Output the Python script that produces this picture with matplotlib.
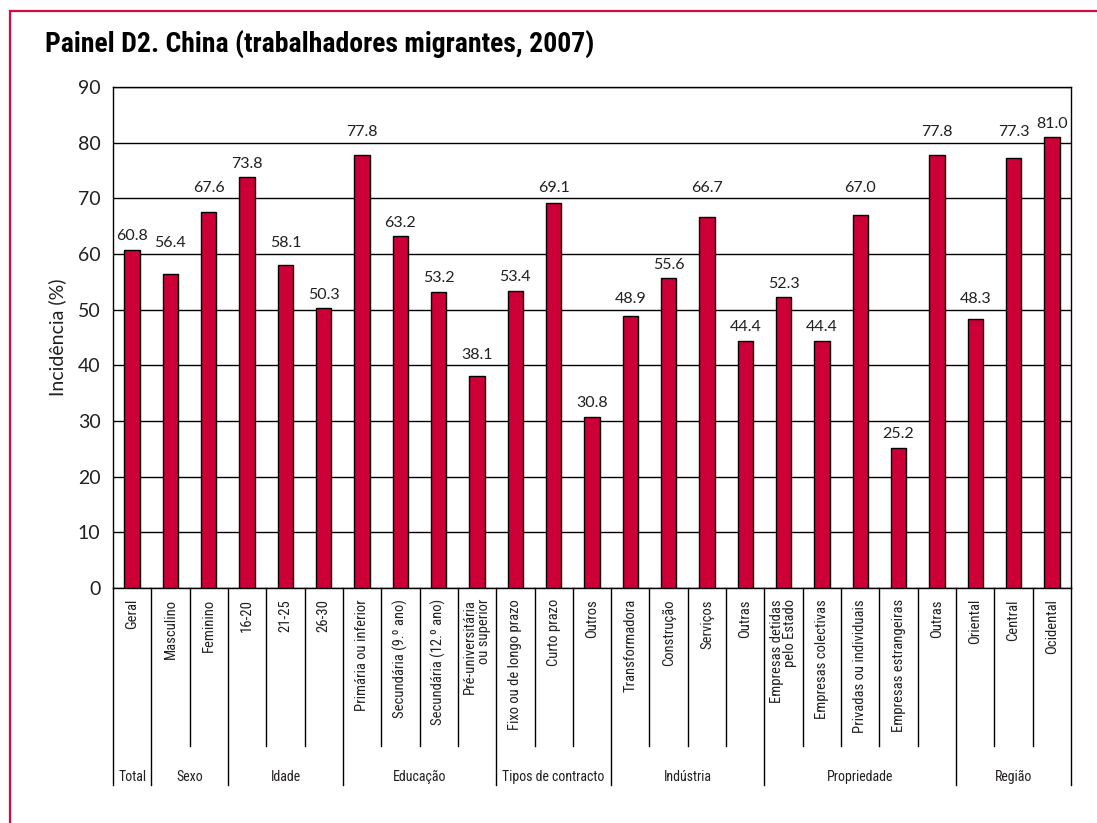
import matplotlib
matplotlib.use("Agg")
import matplotlib.pyplot as plt
from matplotlib.patches import Rectangle
from matplotlib import font_manager

# ------------------------------------------------------------
# Data
# ------------------------------------------------------------
categories = [
    "Geral",
    "Masculino", "Feminino",
    "16-20", "21-25", "26-30",
    "Primária ou inferior", "Secundária (9.º ano)", "Secundária (12.º ano)",
    "Pré-universitária\nou superior",
    "Fixo ou de longo prazo", "Curto prazo", "Outros",
    "Transformadora", "Construção", "Serviços", "Outras",
    "Empresas detidas\npelo Estado", "Empresas colectivas",
    "Privadas ou individuais", "Empresas estrangeiras", "Outras",
    "Oriental", "Central", "Ocidental",
]
values = [
    60.8,
    56.4, 67.6,
    73.8, 58.1, 50.3,
    77.8, 63.2, 53.2, 38.1,
    53.4, 69.1, 30.8,
    48.9, 55.6, 66.7, 44.4,
    52.3, 44.4, 67.0, 25.2, 77.8,
    48.3, 77.3, 81.0,
]
groups = ["Total", "Sexo", "Idade", "Educação", "Tipos de contracto",
          "Indústria", "Propriedade", "Região"]
group_sizes = [1, 2, 3, 4, 3, 4, 5, 3]

title = "Painel D2. China (trabalhadores migrantes, 2007)"
ylabel = "Incidência (%)"

# ------------------------------------------------------------
# Fonts : look for a narrow face, otherwise condensed DejaVu
# ------------------------------------------------------------
fonts = font_manager.fontManager.ttflist
narrow_names = sorted({f.name for f in fonts
                       if "Narrow" in f.name or "Condensed" in f.name})
narrow_kw = {"family": "DejaVu Sans", "fontstretch": "condensed"}
for pref in ["Liberation Sans Narrow", "Roboto Condensed",
             "Open Sans Condensed", "DejaVu Sans Condensed"]:
    if pref in narrow_names:
        narrow_kw = {"family": pref}
        break
else:
    if narrow_names:
        narrow_kw = {"family": narrow_names[0]}

available = {f.name for f in fonts}
num_font = "Lato" if "Lato" in available else "DejaVu Sans"

BAR = "#CC0036"
BORDER = "#D6083F"
TXT = "#231F20"

# ------------------------------------------------------------
# Plot
# ------------------------------------------------------------
fig = plt.figure(figsize=(10.97, 8.23), dpi=100)
ax = fig.add_axes([113 / 1097, 1 - 588 / 823, 958 / 1097, 501 / 823])

x = list(range(len(values)))
ax.bar(x, values, width=0.4, color=BAR, edgecolor="black", linewidth=1.0, zorder=3)

ax.set_xlim(-0.5, len(values) - 0.5)
ax.set_ylim(0, 90)
ax.set_yticks(range(0, 91, 10))
ax.yaxis.grid(True, color="black", linewidth=1.0, zorder=0)
ax.tick_params(axis="y", length=0, pad=9, labelsize=14, labelcolor=TXT)
for lab in ax.get_yticklabels():
    lab.set_fontfamily(num_font)
ax.set_xticks([])
for s in ax.spines.values():
    s.set_linewidth(1.0)

ax.set_ylabel(ylabel, fontsize=14, color=TXT, family=num_font, labelpad=8)

# value labels, kept clear of the grid lines
for xi, v in zip(x, values):
    yc = v + 2.4
    grid = int((yc + 1.2) // 10) * 10
    if grid > v:
        yc = grid + 1.9
    ax.text(xi, yc, f"{v:.1f}", ha="center", va="center",
            fontsize=11.5, color=TXT, family=num_font)

# category labels and separators below the axis
trans = ax.get_xaxis_transform()
for xi, name in zip(x, categories):
    ax.text(xi, -0.022, name, rotation=90, ha="center", va="top",
            multialignment="right", fontsize=10.5, color=TXT,
            transform=trans, linespacing=0.95, **narrow_kw)

bounds = [0]
for n in group_sizes:
    bounds.append(bounds[-1] + n)

for i in range(len(values) + 1):
    low = -0.393 if i in bounds else -0.316
    ax.plot([i - 0.5, i - 0.5], [0, low], color="black", linewidth=1.0,
            transform=trans, clip_on=False)

for g, a, b in zip(groups, bounds[:-1], bounds[1:]):
    ax.text((a + b - 1) / 2, -0.378, g, ha="center", va="center",
            fontsize=10, color=TXT, transform=trans, **narrow_kw)

# title and frame
fig.text(45 / 1097, 1 - 44 / 823, title, ha="left", va="center",
         fontsize=20, fontweight="bold", color="black", **narrow_kw)
fig.patches.append(Rectangle((9.5 / 1097, -0.05), 1.1, 1.05 - 10.5 / 823,
                             transform=fig.transFigure, fill=False,
                             edgecolor=BORDER, linewidth=1.6))

fig.savefig("out.png", dpi=100)
